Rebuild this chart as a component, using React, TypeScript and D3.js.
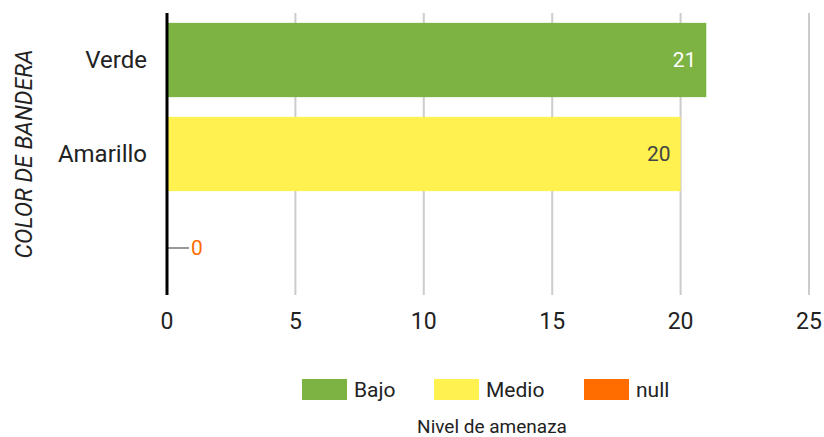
import * as d3 from "d3";

const categories = ["Verde", "Amarillo", ""];
const values = [21, 20, 0];
const seriesNames = ["Bajo", "Medio", "null"];
const seriesColors = ["#7cb342", "#fff150", "#ff6d00"];
const labelColors = ["#ffffff", "#444444", "#ff6d00"];
const xTicks = [0, 5, 10, 15, 20, 25];

export default function App() {
  const width = 824;
  const height = 437;
  const left = 167;
  const right = 809;
  const top = 13;
  const bottom = 295;

  const x = d3.scaleLinear().domain([0, 25]).range([left, right]);
  const y = d3
    .scaleBand<string>()
    .domain(categories.map((c, i) => `${i}`))
    .range([top, bottom])
    .paddingInner(0.21)
    .paddingOuter(0.105);

  const font = "Roboto, 'Noto Sans', sans-serif";

  return (
    <svg
      width={width}
      height={height}
      style={{ position: "absolute", left: 0, top: 0, background: "#fff" }}
      fontFamily={font}
    >
      {/* Rejilla vertical */}
      {xTicks.slice(1).map((t) => (
        <line
          key={t}
          x1={x(t)}
          x2={x(t)}
          y1={top}
          y2={bottom}
          stroke="#cccccc"
          strokeWidth={2}
        />
      ))}

      {/* Barras */}
      {values.map((v, i) => {
        const by = y(`${i}`) ?? 0;
        const bh = y.bandwidth();
        const cy = by + bh / 2;
        if (v === 0) {
          return (
            <g key={i}>
              <line
                x1={x(0)}
                x2={x(0) + 22}
                y1={cy}
                y2={cy}
                stroke="#999999"
                strokeWidth={2}
              />
              <text
                x={x(0) + 24}
                y={cy}
                dy="0.35em"
                fontSize={21}
                fill={labelColors[i]}
              >
                {v}
              </text>
            </g>
          );
        }
        return (
          <g key={i}>
            <rect
              x={x(0)}
              y={by}
              width={x(v) - x(0)}
              height={bh}
              fill={seriesColors[i]}
            />
            <text
              x={x(v) - 10}
              y={cy}
              dy="0.35em"
              textAnchor="end"
              fontSize={21}
              fill={labelColors[i]}
            >
              {v}
            </text>
          </g>
        );
      })}

      {/* Eje vertical */}
      <line
        x1={left}
        x2={left}
        y1={top}
        y2={bottom}
        stroke="#000"
        strokeWidth={3}
      />

      {/* Etiquetas de categoría */}
      {categories.map((c, i) => (
        <text
          key={i}
          x={147}
          y={(y(`${i}`) ?? 0) + y.bandwidth() / 2}
          dy="0.35em"
          textAnchor="end"
          fontSize={24}
          fill="#222"
        >
          {c}
        </text>
      ))}

      {/* Etiquetas del eje X */}
      {xTicks.map((t) => (
        <text
          key={t}
          x={x(t)}
          y={321}
          dy="0.35em"
          textAnchor="middle"
          fontSize={23}
          fill="#222"
        >
          {t}
        </text>
      ))}

      {/* Título eje Y */}
      <text
        transform={`translate(24,${(top + bottom) / 2}) rotate(-90)`}
        textAnchor="middle"
        dy="0.35em"
        fontSize={23}
        fontStyle="italic"
        fill="#222"
      >
        COLOR DE BANDERA
      </text>

      {/* Leyenda */}
      {seriesNames.map((name, i) => {
        const lx = [302, 434, 584][i];
        return (
          <g key={name}>
            <rect x={lx} y={379} width={45} height={21} fill={seriesColors[i]} />
            <text x={lx + 52} y={390} dy="0.35em" fontSize={21} fill="#222">
              {name}
            </text>
          </g>
        );
      })}
      <text
        x={492}
        y={426}
        dy="0.35em"
        textAnchor="middle"
        fontSize={19}
        fill="#222"
      >
        Nivel de amenaza
      </text>
    </svg>
  );
}
